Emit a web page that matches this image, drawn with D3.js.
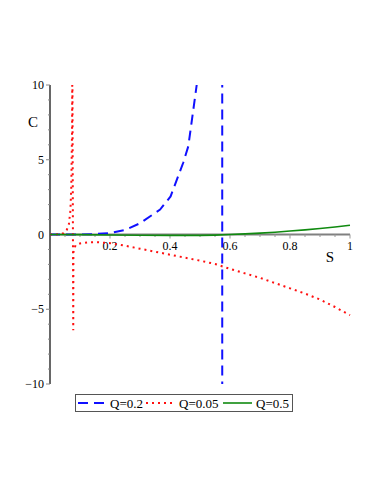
<html>
<head>
<meta charset='utf-8' />
<script src="https://cdn.jsdelivr.net/npm/d3@7/dist/d3.min.js"></script>
<style>
  body { margin: 0; background: #fff; }
  text { font-family: 'Liberation Serif', 'Times New Roman', serif; }
</style>
</head>
<body>
<svg id='chart' width='382' height='494'></svg>
<script>
// values (S, C)
const sQ02 = [0, 0.05, 0.1, 0.15, 0.2, 0.25, 0.3, 0.367, 0.402, 0.444, 0.461, 0.489, 0.52, 0.55, 0.574, 0.5742];
const cQ02 = [0, 0, 0.005, 0.03, 0.1, 0.3, 0.75, 1.67, 2.55, 4.8, 5.9, 10, 16, 40, 300, -300];

const sQ005 = [0, 0.03, 0.045, 0.055, 0.063, 0.068, 0.071, 0.0735, 0.0745, 0.0775, 0.078, 0.085, 0.1, 0.13, 0.16, 0.2, 0.25, 0.3, 0.35, 0.4, 0.45, 0.5, 0.55, 0.6, 0.65, 0.7, 0.75, 0.8, 0.85, 0.9, 0.95, 1];
const cQ005 = [0, 0.01, 0.08, 0.25, 0.7, 1.6, 3.2, 7, 12, -6.4, -1.2, -0.72, -0.6, -0.52, -0.52, -0.58, -0.75, -0.95, -1.15, -1.35, -1.55, -1.75, -1.97, -2.3, -2.6, -2.9, -3.25, -3.6, -3.95, -4.35, -4.85, -5.4];

const sQ05 = [0, 0.1, 0.2, 0.3, 0.4, 0.5, 0.55, 0.6, 0.65, 0.7, 0.75, 0.8, 0.85, 0.9, 0.95, 1];
const cQ05 = [0, -0.01, -0.03, -0.05, -0.06, -0.06, -0.04, 0, 0.04, 0.09, 0.15, 0.23, 0.31, 0.4, 0.5, 0.62];

const xTicks = [0.2, 0.4, 0.6, 0.8, 1];
const xTickLabels = ['0.2', '0.4', '0.6', '0.8', '1'];
const yTicks = [-10, -5, 0, 5, 10];
const yTickLabels = ['\u221210', '\u22125', '0', '5', '10'];

const seriesNames = ['Q=0.2', 'Q=0.05', 'Q=0.5'];
const seriesColors = ['#1010ff', '#ff1010', '#108a10'];
const seriesDash = ['10,6', '2,4', null];

const svg = d3.select('#chart');
const x = d3.scaleLinear().domain([0, 1]).range([50, 350]);
const y = d3.scaleLinear().domain([-10, 10]).range([384, 85]);

svg.append('defs').append('clipPath').attr('id', 'plotclip')
  .append('rect')
    .attr('x', x(0) - 5).attr('y', y(10))
    .attr('width', x(1) - x(0) + 10).attr('height', y(-10) - y(10));

// y axis (black line, gray ticks on left)
const yAxis = svg.append('g').attr('transform', `translate(${x(0)},0)`);
yAxis.append('line')
  .attr('x1', 0).attr('x2', 0).attr('y1', y(-10)).attr('y2', y(10))
  .attr('stroke', '#000').attr('stroke-width', 1.2);
yAxis.selectAll('line.minor')
  .data(d3.range(-10, 11).filter(v => v !== 0))
  .enter().append('line')
    .attr('class', 'minor')
    .attr('x1', d => d % 5 === 0 ? -4 : -2).attr('x2', 0)
    .attr('y1', d => y(d)).attr('y2', d => y(d))
    .attr('stroke', '#888').attr('stroke-width', 1);
yAxis.selectAll('text.tl')
  .data(yTicks)
  .enter().append('text')
    .attr('class', 'tl')
    .attr('x', -6).attr('y', d => y(d) + 4)
    .attr('text-anchor', 'end')
    .attr('font-size', 12)
    .text((d, i) => yTickLabels[i]);

// x axis (thick gray line at C=0)
const xAxis = svg.append('g').attr('transform', `translate(0,${y(0)})`);
xAxis.append('line')
  .attr('x1', x(0)).attr('x2', x(1)).attr('y1', 0).attr('y2', 0)
  .attr('stroke', '#808080').attr('stroke-width', 2.2);
xAxis.selectAll('line.tk')
  .data(d3.range(1, 21).map(v => v / 20))
  .enter().append('line')
    .attr('class', 'tk')
    .attr('x1', d => x(d)).attr('x2', d => x(d))
    .attr('y1', 0).attr('y2', (d, i) => (i + 1) % 4 === 0 ? 4 : 2.5)
    .attr('stroke', '#999').attr('stroke-width', 1);
xAxis.selectAll('text.tl')
  .data(xTicks)
  .enter().append('text')
    .attr('class', 'tl')
    .attr('x', d => x(d)).attr('y', 15)
    .attr('text-anchor', 'middle')
    .attr('font-size', 12)
    .text((d, i) => xTickLabels[i]);

svg.append('text').attr('x', 33).attr('y', 127).attr('text-anchor', 'middle')
  .attr('font-size', 15).text('C');
svg.append('text').attr('x', 330).attr('y', 262).attr('text-anchor', 'middle')
  .attr('font-size', 15).text('S');

// curves
const line = d3.line().x(d => x(d[0])).y(d => y(d[1]));
const series = [d3.zip(sQ02, cQ02), d3.zip(sQ005, cQ005), d3.zip(sQ05, cQ05)];
const plot = svg.append('g').attr('clip-path', 'url(#plotclip)');
series.forEach((pts, i) => {
  plot.append('path')
    .datum(pts)
    .attr('d', line)
    .attr('fill', 'none')
    .attr('stroke', seriesColors[i])
    .attr('stroke-width', i === 2 ? 1.6 : 2)
    .attr('stroke-dasharray', seriesDash[i]);
});

// legend
const legend = svg.append('g').attr('transform', 'translate(75,394)');
legend.append('rect')
  .attr('x', 0.5).attr('y', 0.5).attr('width', 217).attr('height', 17)
  .attr('fill', '#fff').attr('stroke', '#555').attr('stroke-width', 1);
const lx = [3, 71, 148];
const tx = [35, 104, 181];
seriesNames.forEach((name, i) => {
  legend.append('line')
    .attr('x1', lx[i]).attr('x2', lx[i] + 29).attr('y1', 9).attr('y2', 9)
    .attr('stroke', seriesColors[i])
    .attr('stroke-width', i === 2 ? 1.6 : 2)
    .attr('stroke-dasharray', seriesDash[i]);
  legend.append('text')
    .attr('x', tx[i]).attr('y', 13.5)
    .attr('font-size', 13)
    .text(name);
});
</script>
</body>
</html>
